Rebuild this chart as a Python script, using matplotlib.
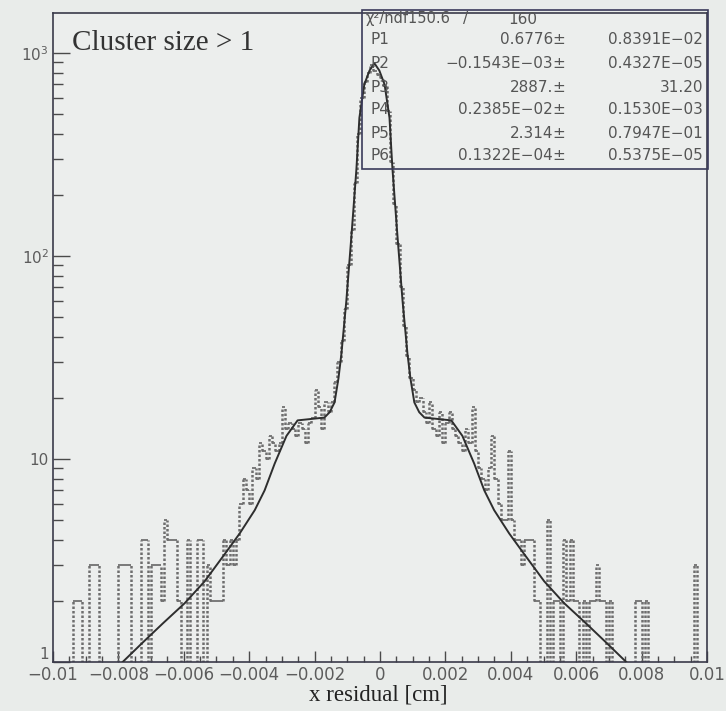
import numpy as np
import matplotlib
matplotlib.use("Agg")
import matplotlib.pyplot as plt
from matplotlib.ticker import MultipleLocator, FixedLocator, FixedFormatter, LogLocator, NullFormatter
from matplotlib.patches import Rectangle

# ---------------- data ----------------
x_min, x_max, n_bins = -0.01, 0.01, 200
counts = [
    0, 0, 0, 0, 0, 0, 2, 2, 2, 0,
    0, 3, 3, 3, 0, 0, 0, 0, 0, 0,
    3, 3, 3, 3, 0, 0, 0, 4, 4, 0,
    3, 3, 3, 2, 5, 4, 4, 4, 2, 0,
    0, 4, 0, 0, 4, 4, 0, 3, 2, 2,
    2, 2, 4, 3, 4, 3, 4, 6, 8, 7,
    6, 9, 8, 12, 11, 10, 13, 12, 11, 12,
    18, 14, 15, 14, 13, 15, 14, 12, 15, 16,
    22, 18, 14, 19, 17, 19, 24, 30, 38, 55,
    90, 135, 230, 400, 600, 720, 800, 870, 820, 780,
    750, 690, 520, 290, 180, 115, 70, 45, 32, 25,
    22, 19, 20, 17, 15, 19, 14, 13, 17, 12,
    15, 17, 14, 13, 12, 11, 14, 12, 18, 11,
    9, 8, 7, 9, 13, 8, 6, 5, 5, 11,
    5, 4, 4, 3, 4, 4, 4, 2, 2, 0,
    0, 5, 0, 2, 2, 0, 4, 2, 4, 2,
    2, 0, 2, 0, 2, 2, 3, 2, 2, 0,
    2, 0, 0, 0, 0, 0, 0, 0, 2, 2,
    0, 2, 0, 0, 0, 0, 0, 0, 0, 0,
    0, 0, 0, 0, 0, 0, 3, 0, 0, 0,
]

fit_x = [-0.00787, -0.00725, -0.00664, -0.00597, -0.00536, -0.00475, -0.00429,
         -0.00383, -0.00353, -0.00322, -0.00286, -0.00252, -0.00170, -0.00154,
         -0.00139, -0.00127, -0.00118, -0.00103, -0.00087, -0.00072, -0.00063,
         -0.00048, -0.00032, -0.00017, -0.00002, 0.00014, 0.00029, 0.00038,
         0.00053, 0.00069, 0.00084, 0.00093, 0.00105, 0.00120, 0.00136,
         0.00218, 0.00252, 0.00288, 0.00319, 0.00349, 0.00395, 0.00441,
         0.00502, 0.00563, 0.00630, 0.00691, 0.00753]
fit_y = [1.0, 1.25, 1.55, 1.95, 2.5, 3.4, 4.3,
         5.6, 7.0, 9.5, 13.0, 15.5, 16.0, 17.0,
         19.0, 25.0, 33.0, 60.0, 128.0, 270.0, 480.0,
         700.0, 820.0, 890.0, 820.0, 700.0, 480.0, 270.0,
         128.0, 60.0, 33.0, 25.0, 19.0, 17.0, 16.0,
         15.5, 13.0, 9.5, 7.0, 5.6, 4.3, 3.4,
         2.5, 1.95, 1.55, 1.25, 1.0]

x_ticks = [-0.01, -0.008, -0.006, -0.004, -0.002, 0.0, 0.002, 0.004, 0.006, 0.008, 0.01]
x_tick_labels = ["\u22120.01", "\u22120.008", "\u22120.006", "\u22120.004", "\u22120.002",
                 "0", "0.002", "0.004", "0.006", "0.008", "0.01"]
y_ticks = [1, 10, 100, 1000]
y_tick_labels = ["1", "10", r"$10^{2}$", r"$10^{3}$"]

stat_names = ["P1", "P2", "P3", "P4", "P5", "P6"]
stat_values = ["0.6776", "\u22120.1543E\u221203", "2887.", "0.2385E\u221202", "2.314", "0.1322E\u221204"]
stat_errors = ["0.8391E\u221202", "0.4327E\u221205", "31.20", "0.1530E\u221203", "0.7947E\u221201", "0.5375E\u221205"]
chi2_text = "150.6"
ndf_text = "160"

title_text = "Cluster size > 1"
xlabel_text = "x residual [cm]"

# ---------------- figure ----------------
W, H = 726, 711
bg = "#e9ecea"
fig = plt.figure(figsize=(W / 100, H / 100), dpi=100, facecolor=bg)
ax = fig.add_axes([53 / W, 1 - 662 / H, (707 - 53) / W, (662 - 13) / H])
ax.set_facecolor("#eceeed")
ax.set_yscale("log")
ax.set_xlim(x_min, x_max)
ax.set_ylim(1, 1575)

# histogram: solid tops, dotted vertical edges
edges = np.linspace(x_min, x_max, n_bins + 1)
vals = np.asarray(counts, dtype=float)
disp = np.where(vals > 0, vals, 0.3)
ax.hlines(disp, edges[:-1], edges[1:], colors="#5a5a5a", lw=1.1, zorder=2)
left = np.concatenate([[0.3], disp])
right = np.concatenate([disp, [0.3]])
ax.vlines(edges, np.minimum(left, right), np.maximum(left, right),
          colors="#6e6e6e", lw=1.8, linestyles=(0, (1.0, 0.8)), zorder=2)

# fit curve
ax.plot(fit_x, fit_y, color="#2e2e2e", lw=1.4, zorder=3)

# axes styling
for s in ax.spines.values():
    s.set_color("#3a3a4a")
    s.set_linewidth(1.2)
ax.xaxis.set_major_locator(FixedLocator(x_ticks))
ax.xaxis.set_major_formatter(FixedFormatter(x_tick_labels))
ax.xaxis.set_minor_locator(MultipleLocator(0.0005))
ax.yaxis.set_major_locator(FixedLocator(y_ticks))
ax.yaxis.set_major_formatter(FixedFormatter(y_tick_labels))
ax.yaxis.set_minor_locator(LogLocator(base=10, subs=np.arange(2, 10)))
ax.yaxis.set_minor_formatter(NullFormatter())
ax.tick_params(axis="both", which="both", direction="in", top=False, right=False,
               colors="#4a4a4a", labelcolor="#5c5c5c")
ax.tick_params(axis="x", which="major", length=8, width=1, labelsize=12, pad=3)
ax.tick_params(axis="x", which="minor", length=4, width=1)
ax.tick_params(axis="y", which="major", length=12, width=1, labelsize=11, pad=3)
ax.tick_params(axis="y", which="minor", length=7, width=1)
# raise the "1" label above the x tick labels, as in the reference
for lab in ax.yaxis.get_majorticklabels():
    if lab.get_text() == "1":
        lab.set_verticalalignment("bottom")

# title text inside the plot
fig.text(72 / W, 1 - 50 / H, title_text, family="Liberation Serif", fontsize=21,
         color="#333333", ha="left", va="baseline")

# axis label
fig.text(378 / W, 1 - 695 / H, xlabel_text, family="Liberation Serif", fontsize=16.5,
         color="#222222", ha="center", va="center")

# stat box
fig.add_artist(Rectangle((362 / W, 1 - 169 / H), (708 - 362) / W, (169 - 10) / H,
                         transform=fig.transFigure, fill=False, edgecolor="#3a3a5a", lw=1.2))
rows_y = [19, 40, 64, 87, 110, 133, 155]
fs = 11
tc = "#555555"
fig.text(366 / W, 1 - rows_y[0] / H, "\u03c7\u00b2/ndf" + chi2_text, fontsize=fs - 0.5,
         color=tc, ha="left", va="center")
fig.text(466 / W, 1 - rows_y[0] / H, "/", fontsize=fs, color=tc, ha="center", va="center")
fig.text(537 / W, 1 - rows_y[0] / H, ndf_text, fontsize=fs, color=tc, ha="right", va="center")
for i, (nm, v, e) in enumerate(zip(stat_names, stat_values, stat_errors)):
    y = 1 - rows_y[i + 1] / H
    fig.text(370 / W, y, nm, fontsize=fs, color=tc, ha="left", va="center")
    fig.text(553 / W, y, v, fontsize=fs, color=tc, ha="right", va="center")
    fig.text(559 / W, y, "\u00b1", fontsize=fs, color=tc, ha="center", va="center")
    fig.text(703 / W, y, e, fontsize=fs, color=tc, ha="right", va="center")

fig.savefig("out.png", dpi=100, facecolor=bg)
